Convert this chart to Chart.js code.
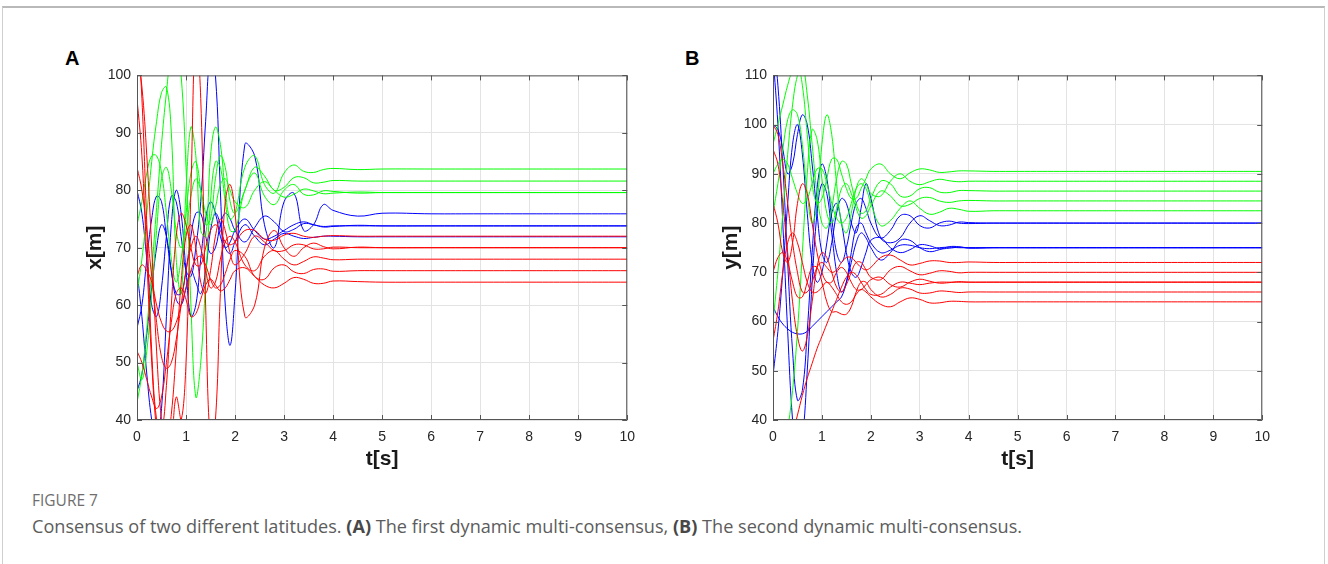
<!DOCTYPE html>
<html>
<head>
<meta charset="utf-8">
<script src="https://cdn.jsdelivr.net/npm/chart.js@4.4.1/dist/chart.umd.min.js"></script>
<style>
  body { margin: 0; background: #fff; width: 1328px; height: 564px; overflow: hidden; position: relative; font-family: "Liberation Sans", Arial, sans-serif; }
  #frame { position: absolute; left: 2px; top: 6px; width: 1321px; height: 620px; border: 1px solid #cfcfcf; border-top: 2px solid #b9b9b9; }
  .letter { position: absolute; top: 48px; font-size: 20px; font-weight: bold; line-height: 20px; color: #000; }
  .wrap { position: absolute; top: 61px; height: 414px; }
  #fig { position: absolute; left: 32px; top: 489px; font-family: "Open Sans", sans-serif; font-size: 15.5px; color: #6e6e6e; }
  #cap { position: absolute; left: 32px; top: 514px; font-family: "Open Sans", sans-serif; font-size: 18.1px; color: #5c5c5c; white-space: nowrap; }
  #cap b { font-weight: bold; color: #484848; }
</style>
</head>
<body>
<div id="frame"></div>
<div class="letter" style="left:65px">A</div>
<div class="letter" style="left:685px">B</div>
<div class="wrap" style="left:70px;width:574px"><canvas id="chartA" width="574" height="414"></canvas></div>
<div class="wrap" style="left:706px;width:573px"><canvas id="chartB" width="573" height="414"></canvas></div>
<div id="fig">FIGURE 7</div>
<div id="cap">Consensus of two different latitudes. <b>(A)</b> The first dynamic multi-consensus, <b>(B)</b> The second dynamic multi-consensus.</div>

<script>
// sample times [s]
const times = [0,0.1,0.2,0.3,0.4,0.5,0.6,0.7,0.8,0.9,1.0, 1.1,1.2,1.3,1.4,1.5,1.6,1.7,1.8,1.9,2.0, 2.2,2.4,2.6,2.8,3.0,3.2,3.4,3.6,3.8,4.0, 4.5,5,6,7,8,9,10];
const xTicks = [0,1,2,3,4,5,6,7,8,9,10];
const yTicksA = [40,50,60,70,80,90,100];
const yTicksB = [40,50,60,70,80,90,100,110];

// panel A : x[m]
const greenA1 = [62,68,76,85,92,97,98,90,68,62,80, 91,86,73,72,86,91,88,80,75,76, 84,86,81,79.5,83,84.4,83.3,83.1,83.6,83.8, 83.6,83.7,83.7,83.7,83.7,83.7,83.7];
const greenA2 = [74,78,83,86,86,83,76,68,64,68,76, 83,85,80,74,75,82,86,84,78,76, 80,84,82.5,80,80.5,82.2,82.2,81.3,81.4,81.7, 81.6,81.6,81.6,81.6,81.6,81.6,81.6];
const greenA3 = [43,48,56,66,77,88,97,104,106,100,84, 60,44,50,64,78,85,84,78,73,73, 80,83,79,77.5,80,81,79.3,79.2,79.9,79.8, 79.5,79.6,79.6,79.6,79.6,79.6,79.6];
const greenA4 = [50,47,52,62,73,82,84,80,73,70,73, 79,82,80,76,74,77,81,82,80,78, 77,80,81.5,80,78.8,79.3,80.2,79.9,79.4,79.5, 79.7,79.6,79.6,79.6,79.6,79.6,79.6];
const blueA1 = [80,76,68,60,58,63,72,79,78,72,66, 65,70,78,92,104,100,80,60,53,62, 88,86,74,70,78,79.5,73,74,77.5,76.5, 75.5,76,75.9,75.9,75.9,75.9,75.9];
const blueA2 = [56,60,68,75,79,78,72,66,62,62,66, 72,76,76,72,69,70,74,76,75,73, 71,73.5,75.5,74.5,72.8,73.2,74.2,74,73.6,73.7, 73.9,73.8,73.8,73.8,73.8,73.8,73.8];
const blueA3 = [45,48,55,63,70,74,72,66,61,60,63, 66,64,62,66,73,76,74,70,69,71, 74,72,70.5,71.5,72.5,72,71.6,71.8,72,72, 71.9,71.9,71.9,71.9,71.9,71.9,71.9];
const blueA4 = [66,58,48,40,36,42,58,74,80,76,66, 58,60,68,75,78,76,72,70,71,73, 75,73,71.5,72,73,74,74.5,74,73.7,73.8, 73.8,73.8,73.8,73.8,73.8,73.8,73.8];
const redA1 = [110,96,74,52,40,38,46,60,72,76,74, 70,67,67,70,73,74,73,71,70.5,71, 73,73,71.5,71.3,72.2,72.5,72,71.8,72,72.1, 72,72,72,72,72,72,72];
const redA2 = [96,86,68,50,38,32,32,36,44,40,50, 80,108,96,60,36,40,62,78,81,76, 58,60,70,73,70,68.5,70,70.8,70.2,69.8, 70.1,70,70,70,70,70,70];
const redA3 = [84,80,73,65,57,51,49,50,54,60,66, 70,72,70,66,63,64,68,71,72,71, 67,66,68.5,69.5,68,67,67.6,68.4,68.2,67.9, 68,68,68,68,68,68,68];
const redA4 = [65,67,66,64,60,57,55.5,55.5,57,60,63, 66,68,68.5,67,64.5,63,63.5,65.5,68,69.5, 68.5,65,64.5,66.5,67,65.8,65.5,66.2,66.3,65.9, 66,66,66,66,66,66,66];
const redA5 = [52,50,47,44,42,44,50,57,62,63,61, 58,58.5,61,63.5,64.5,63.5,62.5,63,64.5,66, 66.5,65,63.5,63,63.8,64.8,64.5,63.8,63.8,64.2, 64.1,64,64,64,64,64,64];
const redA6 = [104,98,86,70,52,40,36,41,52,64,72, 74,70,64,62,66,72,75,73,69,67, 69,72,71,69.5,69.5,70.5,70.5,69.8,69.8,70.1, 70,70,70,70,70,70,70];

// panel B : y[m]
const greenB1 = [96,100,104,108,111,112,108,98,88,84,85, 89,93,93,90,87,85,85,87,89,91, 92,90,89,90.2,91,90.8,90.3,90.4,90.6,90.6, 90.5,90.5,90.5,90.5,90.5,90.5,90.5];
const greenB2 = [82,88,95,101,103,102,96,86,80,84,96, 102,98,88,80,78,82,87,89,88,86, 85.5,88.5,90,88.5,87.8,88.4,88.9,88.6,88.4,88.5, 88.5,88.5,88.5,88.5,88.5,88.5,88.5];
const greenB3 = [60,70,82,94,104,110,112,106,96,86,80, 79,83,89,92.5,92,88,84,82,82.5,85, 88.5,88,85.5,85.5,87,87.2,86.3,86.2,86.6,86.6, 86.5,86.5,86.5,86.5,86.5,86.5,86.5];
const greenB4 = [24,27,32,38,46,58,74,90,99,97,89, 82,80,83,87,88,86,83,81,81.5,83.5, 86.5,85.5,83.5,83.8,85,85.2,84.5,84.2,84.5,84.6, 84.5,84.5,84.5,84.5,84.5,84.5,84.5];
const greenB5 = [90,92,93,92,89,86,84,85,88,91,91, 88,84,81,80,81,84,87,88,87,84, 79.5,80.5,83,84.5,83,81.8,82.2,83,82.8,82.4, 82.5,82.5,82.5,82.5,82.5,82.5,82.5];
const blueB1 = [118,108,92,72,54,44,46,58,74,87,92, 89,81,74,72,75,80,84,85,83,80, 77,78.5,81.5,81.5,79.5,79,80,80.4,80,79.9, 80,80,80,80,80,80,80];
const blueB2 = [100,99,95,90,92,98,102,100,92,82,74, 72,76,82,85,84,80,78,83,88,85, 77,76,77,80,81.5,80.5,79.5,79.6,80.2,80.1, 80,80,80,80,80,80,80];
const blueB3 = [114,100,80,58,40,32,36,50,68,82,88, 86,78,70,66,68,72,76,78,77,75, 72.5,74,76.5,76.5,75,74.2,74.6,75.2,75.2,74.9, 75,75,75,75,75,75,75];
const blueB4 = [63,61,59.5,58.5,57.8,57.5,57.5,58,59,60,61, 62,63,64,65,68,74,79,80,78,76, 74,74.5,75.5,75.5,75,74.8,75,75.1,75,75, 75,75,75,75,75,75,75];
const blueB5 = [49,58,70,84,96,100,94,82,72,68,70, 76,82,84,80,74,70,69,71,74,76.5, 77,75,74,74.6,75.6,75.4,74.8,74.9,75.1,75, 75,75,75,75,75,75,75];
const redB1 = [100,98,92,84,76,70,66,66,68,71,72, 71,70,70.5,72,73,73,72,71,70.5,71, 73,73.5,72.5,71.5,71.8,72.3,72.3,72,72,72.1, 72,72,72,72,72,72,72];
const redB2 = [95,92,84,74,64,57,54,57,64,71,74, 73,70,67,66,67.5,70,72,72,70.5,69, 68.5,70.5,71.2,70.3,69.5,69.8,70.3,70.2,69.9,70, 70,70,70,70,70,70,70];
const redB3 = [84,80,74,72,76,84,88,86,80,74,70, 68,68,70,71,70,68,66.5,66.5,67.5,68.5, 69,67.5,67,68,68.6,68.2,67.8,67.9,68.1,68, 68,68,68,68,68,68,68];
const redB4 = [70,73,74,72,68,65,65,68,71,71,68, 64,62,62,61.5,61.5,63,66,68,68,66.5, 65,65.5,66.8,66.6,65.8,65.8,66.2,66.1,65.9,66, 66,66,66,66,66,66,66];
const redB5 = [56,62,70,76,78,76,72,68,66,66,67, 68,67,65.5,64,63.5,64,65.5,66.5,66,65, 63.5,63,64,64.8,64.5,63.8,63.8,64.1,64.1,64, 64,64,64,64,64,64,64];
const redB6 = [20,24,28,33,37,41,45,48.5,51.5,54.5,57, 59.5,62,64.5,67,69,70,69.5,68,66.5,65.5, 65.5,67,68,67.8,67.5,67.8,68,68,68,68, 68,68,68,68,68,68,68];

const RED = '#ff0000', GREEN = '#00ff00', BLUE = '#0000ff';

function line(vals, color) {
    return {
        data: times.map((t, i) => ({x: t, y: vals[i]})),
        borderColor: color,
        borderWidth: 1,
        pointRadius: 0,
        tension: 0.4,
        fill: false
    };
}

// matlab style box with inward ticks
const boxPlugin = {
    id: 'box',
    afterDatasetsDraw(chart) {
        const {ctx, chartArea: a, scales} = chart;
        const x = scales.x, y = scales.y;
        ctx.save();
        ctx.strokeStyle = '#555';
        ctx.lineWidth = 1;
        ctx.beginPath();
        ctx.rect(a.left + 0.5, a.top + 0.5, a.right - a.left - 1, a.bottom - a.top - 1);
        x.ticks.forEach(t => {
            const px = Math.round(x.getPixelForValue(t.value)) + 0.5;
            ctx.moveTo(px, a.bottom); ctx.lineTo(px, a.bottom - 5);
            ctx.moveTo(px, a.top); ctx.lineTo(px, a.top + 5);
        });
        y.ticks.forEach(t => {
            const py = Math.round(y.getPixelForValue(t.value)) + 0.5;
            ctx.moveTo(a.left, py); ctx.lineTo(a.left + 5, py);
            ctx.moveTo(a.right, py); ctx.lineTo(a.right - 5, py);
        });
        ctx.stroke();
        ctx.restore();
    }
};

function makeChart(id, sets, yMin, yMax, yTicks, yLabel, padRight) {
    new Chart(document.getElementById(id), {
        type: 'line',
        data: { datasets: sets },
        options: {
            responsive: false,
            animation: false,
            layout: { padding: { top: 6, right: padRight, bottom: 0, left: 0 } },
            plugins: { legend: { display: false }, tooltip: { enabled: false } },
            scales: {
                x: {
                    type: 'linear', min: 0, max: 10,
                    afterFit(s) { s.height = 55; },
                    afterBuildTicks(s) { s.ticks = xTicks.map(v => ({value: v})); },
                    grid: { color: '#e3e3e3', drawTicks: false },
                    border: { display: false },
                    ticks: { padding: 9, color: '#262626', font: { family: 'Liberation Sans', size: 14 } },
                    title: { display: true, text: 't[s]', color: '#1a1a1a', padding: { top: 0, bottom: 3 },
                             font: { family: 'Liberation Sans', size: 21, weight: 'bold' } }
                },
                y: {
                    min: yMin, max: yMax,
                    afterFit(s) { s.width = 67; },
                    afterBuildTicks(s) { s.ticks = yTicks.map(v => ({value: v})); },
                    grid: { color: '#e3e3e3', drawTicks: false },
                    border: { display: false },
                    ticks: { padding: 6, color: '#262626', font: { family: 'Liberation Sans', size: 14 } },
                    title: { display: true, text: yLabel, color: '#1a1a1a', padding: { top: 13, bottom: 0 },
                             font: { family: 'Liberation Sans', size: 21, weight: 'bold' } }
                }
            }
        },
        plugins: [boxPlugin]
    });
}

makeChart('chartA', [
    line(redA1, RED), line(redA2, RED), line(redA3, RED), line(redA4, RED), line(redA5, RED), line(redA6, RED),
    line(greenA1, GREEN), line(greenA2, GREEN), line(greenA3, GREEN), line(greenA4, GREEN),
    line(blueA1, BLUE), line(blueA2, BLUE), line(blueA3, BLUE), line(blueA4, BLUE)
], 40, 100, yTicksA, 'x[m]', 10);

makeChart('chartB', [
    line(redB1, RED), line(redB2, RED), line(redB3, RED), line(redB4, RED), line(redB5, RED), line(redB6, RED),
    line(greenB1, GREEN), line(greenB2, GREEN), line(greenB3, GREEN), line(greenB4, GREEN), line(greenB5, GREEN),
    line(blueB1, BLUE), line(blueB2, BLUE), line(blueB3, BLUE), line(blueB4, BLUE), line(blueB5, BLUE)
], 40, 110, yTicksB, 'y[m]', 11);
</script>
</body>
</html>
